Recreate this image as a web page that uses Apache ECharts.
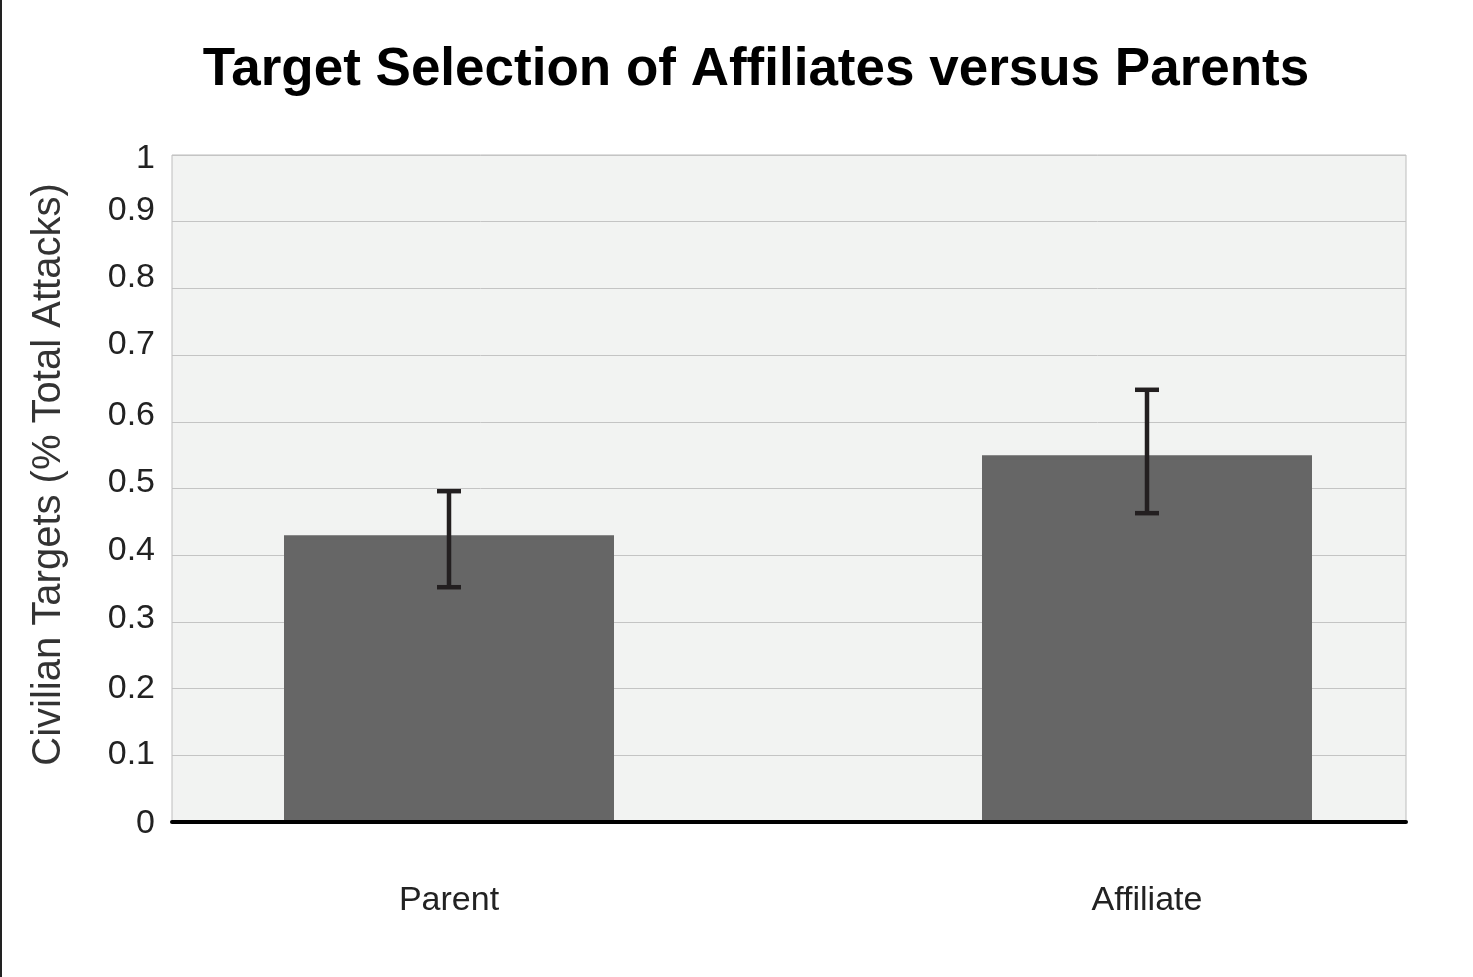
<!DOCTYPE html>
<html>
<head>
<meta charset="utf-8">
<script src="https://cdn.jsdelivr.net/npm/echarts@6/dist/echarts.min.js"></script>
<style>
html,body{margin:0;padding:0;background:#fff;}
#c{width:1473px;height:977px;}
</style>
</head>
<body>
<div id="c"></div>
<script>
const categories = ['Parent', 'Affiliate'];
const values = [0.43, 0.55];
const errLow = [0.352, 0.463];
const errHigh = [0.496, 0.648];
const yTicks = [0, 0.1, 0.2, 0.3, 0.4, 0.5, 0.6, 0.7, 0.8, 0.9, 1];

const FONT = "'Liberation Sans', Arial, Helvetica, sans-serif";
const chart = echarts.init(document.getElementById('c'), null, {renderer: 'canvas'});

// small per-label vertical nudges (px, upward) seen in the original artwork
const labelNudge = [-2, 0.5, 0, 3.5, 4.5, 5.5, 6.5, 10, 10.5, 11, -3.5];
const rich = {};
labelNudge.forEach((d, i) => {
  rich['p' + i] = {
    fontFamily: FONT, fontSize: 34, color: '#222',
    padding: d >= 0 ? [0, 0, 2 * d, 0] : [-2 * d, 0, 0, 0]
  };
});

const option = {
  animation: false,
  backgroundColor: '#ffffff',
  title: {
    text: 'Target Selection of Affiliates versus Parents',
    left: 751,
    textAlign: 'center',
    top: 39,
    textStyle: {fontFamily: FONT, fontSize: 53, fontWeight: 'bold', color: '#000'}
  },
  graphic: [{
    type: 'rect', shape: {x: 0, y: 0, width: 2, height: 977},
    style: {fill: '#222'}, z: 100
  }],
  grid: [
    {left: 172, top: 155, width: 1234, height: 667, show: true, outerBoundsMode: 'none',
     backgroundColor: '#f2f3f2', borderColor: '#bdbdbd', borderWidth: 1},
    {left: 100, top: 155, width: 1396, height: 667, outerBoundsMode: 'none'}
  ],
  xAxis: [
    {gridIndex: 0, type: 'value', min: 0, max: 1, z: 10,
     axisLine: {show: true, lineStyle: {color: '#000', width: 4}},
     axisTick: {show: false}, axisLabel: {show: false}, splitLine: {show: false}},
    {gridIndex: 1, type: 'category', data: categories,
     axisLine: {show: false}, axisTick: {show: false}, splitLine: {show: false},
     axisLabel: {fontFamily: FONT, fontSize: 34, color: '#222', margin: 62}}
  ],
  yAxis: [
    {gridIndex: 0, type: 'value', min: yTicks[0], max: yTicks[yTicks.length - 1], interval: 0.1,
     name: 'Civilian Targets (% Total Attacks)', nameLocation: 'middle', nameGap: 103,
     nameTextStyle: {fontFamily: FONT, fontSize: 40, color: '#333', padding: [0, 0, 0, 28]},
     axisLine: {show: false}, axisTick: {show: false},
     axisLabel: {
       margin: 17,
       formatter: function (v, i) {
         const idx = Math.round(v * 10);
         return '{p' + idx + '|' + yTicks[idx] + '}';
       },
       rich: rich
     },
     splitLine: {show: true, lineStyle: {color: '#c4c4c4', width: 1}}},
    {gridIndex: 1, type: 'value', min: 0, max: 1, show: false}
  ],
  series: [
    {type: 'bar', xAxisIndex: 1, yAxisIndex: 1, data: values, barWidth: 330,
     itemStyle: {color: '#666666'}, z: 3},
    {type: 'custom', xAxisIndex: 1, yAxisIndex: 1, z: 5,
     data: categories.map((c, i) => [i, errLow[i], errHigh[i]]),
     renderItem: function (params, api) {
       const lo = api.coord([api.value(0), api.value(1)]);
       const hi = api.coord([api.value(0), api.value(2)]);
       const half = 12;
       const st = {stroke: '#231f20', lineWidth: 4.5};
       return {type: 'group', children: [
         {type: 'line', shape: {x1: hi[0], y1: hi[1], x2: lo[0], y2: lo[1]}, style: st},
         {type: 'line', shape: {x1: hi[0] - half, y1: hi[1], x2: hi[0] + half, y2: hi[1]}, style: st},
         {type: 'line', shape: {x1: lo[0] - half, y1: lo[1], x2: lo[0] + half, y2: lo[1]}, style: st}
       ]};
     }}
  ]
};
chart.setOption(option);
</script>
</body>
</html>
